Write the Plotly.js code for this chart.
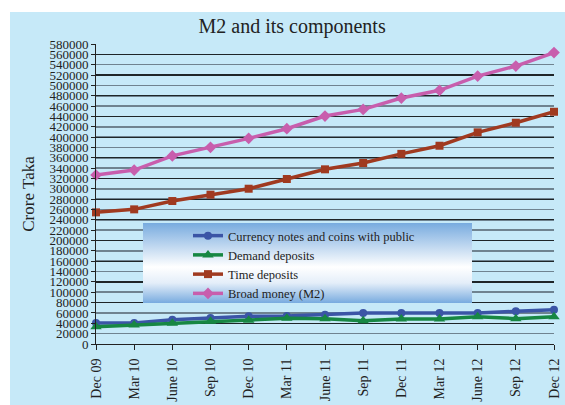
<!DOCTYPE html>
<html>
<head>
<meta charset="utf-8">
<script src="https://cdn.plot.ly/plotly-3.0.1.min.js"></script>
<style>html,body{margin:0;padding:0;background:#fff;}#chart{width:565px;height:405px;}</style>
</head>
<body>
<div id="chart"></div>
<script>
const categories = ["Dec 09","Mar 10","June 10","Sep 10","Dec 10","Mar 11","June 11","Sep 11","Dec 11","Mar 12","June 12","Sep 12","Dec 12"];
const currency = [40600,40600,47000,50300,53500,54100,56700,59900,59900,59900,59900,63100,66400];
const demand   = [33500,36700,39900,43800,45800,49600,49000,45100,48300,48300,52800,49000,52800];
const timeDep  = [254500,260300,276400,288700,300200,319000,337700,349900,367600,383300,409200,427800,449000];
const m2       = [326700,336300,363700,380200,397600,416200,440700,453600,475500,490400,518000,537400,563500];
const seriesNames = ["Currency notes and coins with public","Demand deposits","Time deposits","Broad money (M2)"];
const yTicks = [];
for (let v = 0; v <= 580000; v += 20000) yTicks.push(v);

const font = '"Liberation Serif", "Times New Roman", serif';
const mk = (y, name, color, symbol, size) => ({
  x: categories, y: y, name: name, type: 'scatter', mode: 'lines+markers',
  cliponaxis: false,
  line: {color: color, width: 3.5},
  marker: {color: color, symbol: symbol, size: size}
});
const data = [
  mk(currency, seriesNames[0], '#3b55a6', 'circle', 8),
  mk(demand, seriesNames[1], '#178743', 'triangle-up', 10),
  mk(timeDep, seriesNames[2], '#a03a20', 'square', 8),
  mk(m2, seriesNames[3], '#c85ead', 'diamond', 9)
];
// invisible helper to anchor the overlay grid axis
data.push({x: [categories[0]], y: [null], yaxis: 'y2', type: 'scatter', mode: 'lines', showlegend: false, hoverinfo: 'skip'});

const gradSvg = '<svg xmlns="http://www.w3.org/2000/svg" width="100" height="100" preserveAspectRatio="none"><defs><linearGradient id="g" x1="0" y1="0" x2="0" y2="1"><stop offset="0" stop-color="#78abdf"/><stop offset="0.55" stop-color="#ffffff"/><stop offset="0.75" stop-color="#e4eef9"/><stop offset="1" stop-color="#78abdf"/></linearGradient></defs><rect width="100" height="100" fill="url(#g)"/></svg>';

const L = 96, R = 554, T = 44, B = 344, W = R - L, H = B - T;
const layout = {
  width: 565, height: 405,
  margin: {l: L, r: 565 - R, t: T, b: 405 - B},
  paper_bgcolor: '#ffffff',
  plot_bgcolor: 'rgba(0,0,0,0)',
  font: {family: font, color: '#222'},
  title: {text: 'M2 and its components', font: {family: font, size: 20, color: '#222'},
          xref: 'container', yref: 'container', x: 0.517, y: 0.935, xanchor: 'center', yanchor: 'middle'},
  shapes: [{type: 'rect', xref: 'paper', yref: 'paper', layer: 'below',
            x0: (10 - L) / W, x1: (565 - L) / W, y0: (B - 405) / H, y1: (B - 12) / H,
            fillcolor: '#c6e9f8', line: {width: 0}}],
  images: [{source: 'data:image/svg+xml;charset=utf-8,' + encodeURIComponent(gradSvg),
            xref: 'paper', yref: 'paper', x: (143 - L) / W, y: (B - 223) / H,
            sizex: (472 - 143) / W, sizey: 80 / H, sizing: 'stretch',
            xanchor: 'left', yanchor: 'top', layer: 'above'}],
  xaxis: {type: 'category', range: [0, categories.length - 1],
          showgrid: false, showline: true, linecolor: '#222', linewidth: 1,
          ticks: 'outside', ticklen: 5, tickcolor: '#222', tickangle: -90,
          ticklabelstandoff: 3,
          tickfont: {family: font, size: 14, color: '#222'}},
  yaxis: {range: [0, 580000], tickvals: yTicks, ticktext: yTicks.map(String),
          showgrid: true, gridcolor: '#6f8390', gridwidth: 1.6,
          showline: true, linecolor: '#222', linewidth: 1,
          ticks: 'outside', ticklen: 4, tickcolor: '#222',
          tickfont: {family: font, size: 13, color: '#222'},
          zeroline: false,
          title: {text: 'Crore Taka', font: {family: font, size: 17, color: '#222'}, standoff: 10}},
  yaxis2: {overlaying: 'y', side: 'left', range: [0, 580000], dtick: 40000,
           showgrid: true, gridcolor: '#1e2528', gridwidth: 1.2,
           showticklabels: false, ticks: '', zeroline: false, showline: false},
  legend: {x: (188 - L) / W, y: (B - 221) / H, xanchor: 'left', yanchor: 'top',
           bgcolor: 'rgba(0,0,0,0)', borderwidth: 0,
           font: {family: font, size: 12.5, color: '#222'}, tracegroupgap: 0},
  showlegend: true
};
Plotly.newPlot('chart', data, layout, {displayModeBar: false, staticPlot: true});
</script>
</body>
</html>
